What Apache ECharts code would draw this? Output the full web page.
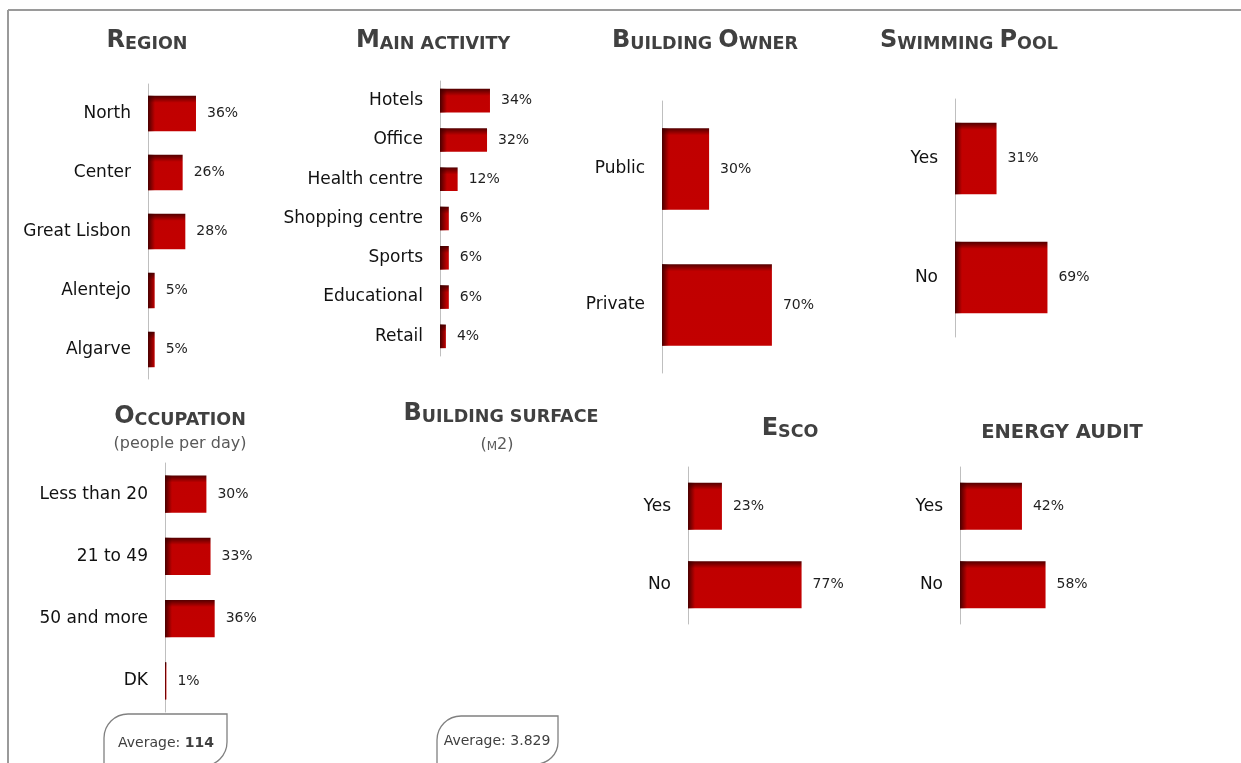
<!DOCTYPE html>
<html>
<head>
<meta charset="utf-8">
<style>
  html, body { margin: 0; padding: 0; background: #fff; }
  #main { width: 1241px; height: 763px; }
</style>
</head>
<body>
<div id="main"></div>
<script src="https://cdn.jsdelivr.net/npm/echarts@6/dist/echarts.min.js"></script>
<script>
// data (percentages)
var regionCats = ['North', 'Center', 'Great Lisbon', 'Alentejo', 'Algarve'];
var regionVals = [36, 26, 28, 5, 5];
var activityCats = ['Hotels', 'Office', 'Health centre', 'Shopping centre', 'Sports', 'Educational', 'Retail'];
var activityVals = [34, 32, 12, 6, 6, 6, 4];
var ownerCats = ['Public', 'Private'];
var ownerVals = [30, 70];
var poolCats = ['Yes', 'No'];
var poolVals = [31, 69];
var occupationCats = ['Less than 20', '21 to 49', '50 and more', 'DK'];
var occupationVals = [30, 33, 36, 1];
var escoCats = ['Yes', 'No'];
var escoVals = [23, 77];
var auditCats = ['Yes', 'No'];
var auditVals = [42, 58];
var occupationAverage = '114';
var surfaceAverage = '3.829';

var FONT = 'DejaVu Sans';

// where each little chart sits (left = axis line, scale = px per %)
var panels = [
  { cats: regionCats, vals: regionVals, left: 148, top: 84, height: 295, scale: 1.333 },
  { cats: activityCats, vals: activityVals, left: 440, top: 81, height: 275, scale: 1.47 },
  { cats: ownerCats, vals: ownerVals, left: 662, top: 101, height: 272, scale: 1.57 },
  { cats: poolCats, vals: poolVals, left: 955, top: 99, height: 238, scale: 1.34 },
  { cats: occupationCats, vals: occupationVals, left: 165, top: 463, height: 249, scale: 1.38 },
  { cats: escoCats, vals: escoVals, left: 688, top: 467, height: 157, scale: 1.475 },
  { cats: auditCats, vals: auditVals, left: 960, top: 467, height: 157, scale: 1.475 }
];

var grids = [], xAxes = [], yAxes = [], series = [];

panels.forEach(function (p, i) {
  var barH = p.height / p.cats.length * 0.6;
  var topStop = Math.min(0.5, 7 / barH);
  grids.push({ left: p.left, top: p.top, width: p.scale * 100, height: p.height });
  xAxes.push({ type: 'value', gridIndex: i, min: 0, max: 100, show: false });
  yAxes.push({
    type: 'category', gridIndex: i, inverse: true, data: p.cats,
    axisLine: { lineStyle: { color: '#bfbfbf', width: 1 } },
    axisTick: { length: 5, lineStyle: { color: '#bfbfbf' } },
    axisLabel: { margin: 17, color: '#111', fontSize: 17, fontFamily: FONT },
    splitLine: { show: false }
  });
  series.push({
    type: 'bar', xAxisIndex: i, yAxisIndex: i, data: p.vals,
    barCategoryGap: '40%',
    itemStyle: {
      color: new echarts.graphic.LinearGradient(0, 0, 0, 1, [
        { offset: 0, color: '#520000' },
        { offset: topStop, color: '#c00000' },
        { offset: 1, color: '#c20000' }
      ])
    },
    label: {
      show: true, position: 'right', distance: 11, formatter: '{c}%',
      color: '#1f1f1f', fontSize: 14, fontFamily: FONT
    },
    silent: true
  });
  // dark left edge of the bevel
  series.push({
    type: 'bar', xAxisIndex: i, yAxisIndex: i, barGap: '-100%',
    barCategoryGap: '40%', silent: true,
    data: p.vals.map(function (v) {
      var w = Math.max(1, v * p.scale);
      var s = Math.min(1, 7 / w);
      return {
        value: v,
        itemStyle: {
          color: new echarts.graphic.LinearGradient(0, 0, 1, 0, [
            { offset: 0, color: 'rgba(60,0,0,0.9)' },
            { offset: s, color: 'rgba(60,0,0,0)' }
          ])
        }
      };
    })
  });
});

function scTitle(big, rest) {
  return '{a|' + big + '}{b|' + rest + '}';
}
var titleRich = {
  a: { fontFamily: FONT, fontWeight: 'bold', fontSize: 24, fill: '#404040', verticalAlign: 'bottom', lineHeight: 28 },
  b: { fontFamily: FONT, fontWeight: 'bold', fontSize: 17.5, fill: '#404040', verticalAlign: 'bottom', lineHeight: 28 },
  c: { fontFamily: FONT, fontWeight: 'bold', fontSize: 19.5, fill: '#404040', verticalAlign: 'bottom', lineHeight: 28 }
};
function titleText(x, y, text) {
  return {
    type: 'text', x: x, y: y, silent: true,
    style: { text: text, rich: titleRich, fill: '#404040', align: 'center', verticalAlign: 'middle' }
  };
}

var graphics = [
  { type: 'line', shape: { x1: 8, y1: 10, x2: 1241, y2: 10 }, style: { stroke: '#9a9a9a', lineWidth: 2 } },
  { type: 'line', shape: { x1: 8, y1: 10, x2: 8, y2: 763 }, style: { stroke: '#9a9a9a', lineWidth: 2 } },
  titleText(147, 39, scTitle('R', 'EGION')),
  titleText(433, 39, scTitle('M', 'AIN ACTIVITY')),
  titleText(705, 39, scTitle('B', 'UILDING ') + scTitle('O', 'WNER')),
  titleText(969, 39, scTitle('S', 'WIMMING ') + scTitle('P', 'OOL')),
  titleText(180, 415, scTitle('O', 'CCUPATION')),
  titleText(501, 412, scTitle('B', 'UILDING SURFACE')),
  titleText(790, 427, scTitle('E', 'SCO')),
  titleText(1062, 429, '{c|ENERGY AUDIT}'),
  {
    type: 'text', x: 180, y: 444, silent: true,
    style: { text: '(people per day)', fontFamily: FONT, fontSize: 16, fill: '#595959', align: 'center', verticalAlign: 'middle' }
  },
  {
    type: 'text', x: 497, y: 443, silent: true,
    style: {
      text: '{p|(}{s|M}{p|2)}', align: 'center', verticalAlign: 'middle', fill: '#595959',
      rich: {
        p: { fontFamily: FONT, fontSize: 16, fill: '#595959', verticalAlign: 'bottom', lineHeight: 20 },
        s: { fontFamily: FONT, fontSize: 12, fill: '#595959', verticalAlign: 'bottom', lineHeight: 20 }
      }
    }
  },
  {
    type: 'rect', shape: { x: 104, y: 714, width: 123, height: 52, r: [24, 0, 24, 0] },
    style: { fill: '#fff', stroke: '#808080', lineWidth: 1.3 }
  },
  {
    type: 'rect', shape: { x: 437, y: 716, width: 121, height: 48, r: [24, 0, 22, 0] },
    style: { fill: '#fff', stroke: '#808080', lineWidth: 1.3 }
  },
  {
    type: 'text', x: 166, y: 743, silent: true,
    style: {
      text: '{n|Average: }{b|' + occupationAverage + '}', align: 'center', verticalAlign: 'middle', fill: '#404040',
      rich: {
        n: { fontFamily: FONT, fontSize: 14, fill: '#404040' },
        b: { fontFamily: FONT, fontSize: 14, fontWeight: 'bold', fill: '#404040' }
      }
    }
  },
  {
    type: 'text', x: 497, y: 741, silent: true,
    style: { text: 'Average: ' + surfaceAverage, fontFamily: FONT, fontSize: 14, fill: '#404040', align: 'center', verticalAlign: 'middle' }
  }
];

var chart = echarts.init(document.getElementById('main'));
chart.setOption({
  animation: false,
  backgroundColor: '#fff',
  grid: grids,
  xAxis: xAxes,
  yAxis: yAxes,
  series: series,
  graphic: graphics
});
</script>
</body>
</html>
